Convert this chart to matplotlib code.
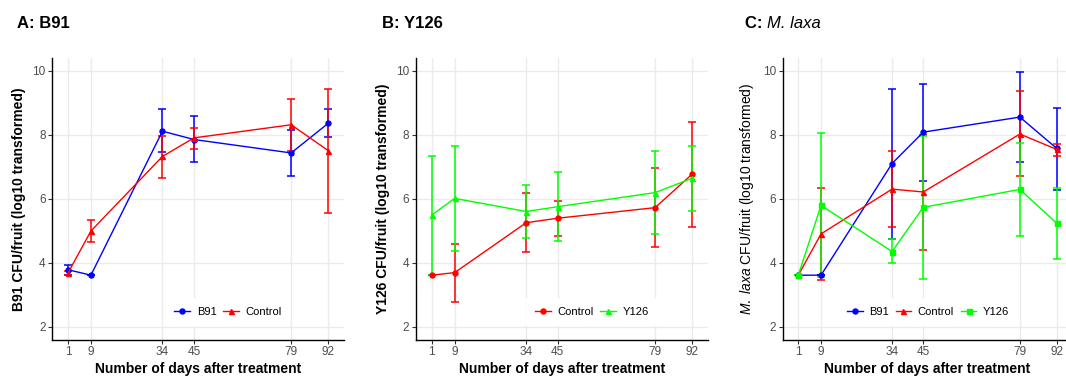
import matplotlib
matplotlib.use("Agg")
import matplotlib.pyplot as plt
from matplotlib.lines import Line2D
import numpy as np

plt.rcParams['font.family'] = ['Liberation Sans', 'DejaVu Sans']
plt.rcParams['mathtext.fontset'] = 'custom'
plt.rcParams['mathtext.rm'] = 'Liberation Sans'
plt.rcParams['mathtext.it'] = 'Liberation Sans:italic'
plt.rcParams['mathtext.bf'] = 'Liberation Sans:bold'

days = [1, 9, 34, 45, 79, 92]
x_ticks = [1, 9, 34, 45, 79, 92]
y_ticks = [2, 4, 6, 8, 10]

# Panel A: B91
a_b91_mean = [3.78, 3.61, 8.11, 7.85, 7.43, 8.36]
a_b91_low = [3.63, 3.61, 7.45, 7.14, 6.71, 7.92]
a_b91_high = [3.93, 3.61, 8.79, 8.57, 8.15, 8.81]
a_ctl_mean = [3.68, 4.99, 7.32, 7.90, 8.31, 7.50]
a_ctl_low = [3.62, 4.65, 6.66, 7.56, 7.50, 5.55]
a_ctl_high = [3.74, 5.33, 7.97, 8.22, 9.13, 9.42]

# Panel B: Y126
b_ctl_mean = [3.61, 3.69, 5.25, 5.39, 5.72, 6.77]
b_ctl_low = [3.61, 2.78, 4.33, 4.83, 4.50, 5.13]
b_ctl_high = [3.61, 4.60, 6.17, 5.93, 6.95, 8.41]
b_y126_mean = [5.49, 6.01, 5.60, 5.75, 6.19, 6.64]
b_y126_low = [3.61, 4.36, 4.77, 4.69, 4.90, 5.62]
b_y126_high = [7.33, 7.66, 6.44, 6.82, 7.50, 7.65]

# Panel C: M. laxa
c_b91_mean = [3.61, 3.61, 7.10, 8.08, 8.55, 7.57]
c_b91_low = [3.61, 3.61, 4.75, 6.56, 7.16, 6.27]
c_b91_high = [3.61, 3.61, 9.43, 9.58, 9.96, 8.85]
c_ctl_mean = [3.61, 4.90, 6.30, 6.21, 8.02, 7.54]
c_ctl_low = [3.61, 3.46, 5.11, 4.41, 6.71, 7.35]
c_ctl_high = [3.61, 6.35, 7.49, 8.00, 9.36, 7.71]
c_y126_mean = [3.61, 5.79, 4.35, 5.73, 6.29, 5.23]
c_y126_low = [3.61, 3.54, 3.98, 3.50, 4.84, 4.12]
c_y126_high = [3.61, 8.04, 4.75, 7.96, 7.73, 6.35]

BLUE = '#0000FF'
RED = '#FF0000'
GREEN = '#00FF00'

W, H = 1066, 376
fig = plt.figure(figsize=(W / 100, H / 100), dpi=100)

ax_bottom = (H - 339.5) / H
ax_height = 281.6 / H
panels_px = [(52.3, 291.8), (416.0, 292.0), (782.7, 289.7)]


def draw_series(ax, mean, low, high, color, marker, label):
    mean = np.array(mean)
    yerr = np.vstack([mean - np.array(low), np.array(high) - mean])
    ax.errorbar(days, mean, yerr=yerr, color=color, ecolor=color, elinewidth=1.1,
                capsize=2.6, capthick=1.1, lw=1.0, marker=marker, ms=3.6,
                zorder=3)
    return Line2D([], [], color=color, lw=1.0, marker=marker, ms=3.6, label=label)


def style_axes(ax):
    ax.set_xlim(-4.5, 97.5)
    ax.set_ylim(1.6, 10.4)
    ax.set_xticks(x_ticks)
    ax.set_yticks(y_ticks)
    ax.grid(True, color='#EBEBEB', lw=1.0, zorder=0)
    ax.set_axisbelow(True)
    for s in ['top', 'right']:
        ax.spines[s].set_visible(False)
    for s in ['left', 'bottom']:
        ax.spines[s].set_color('black')
        ax.spines[s].set_linewidth(1.0)
    ax.tick_params(axis='both', labelsize=8.5, labelcolor='#4D4D4D',
                   color='#333333', length=2.8, width=0.8, pad=2)
    ax.set_xlabel('Number of days after treatment', fontsize=10, fontweight='bold')
    ax.xaxis.label.set_va('center')
    ax.xaxis.set_label_coords(0.5, -0.105)


def legend(ax, handles, xc, ncol):
    leg = ax.legend(handles=handles, loc='center', bbox_to_anchor=(xc, 0.098), ncol=ncol,
                    fontsize=8, frameon=True, fancybox=False, borderpad=0.8,
                    handlelength=1.4, handletextpad=0.6, columnspacing=0.6)
    leg.get_frame().set_facecolor('white')
    leg.get_frame().set_edgecolor('none')
    leg.get_frame().set_alpha(1.0)


axes = []
for (l, w) in panels_px:
    axes.append(fig.add_axes([l / W, ax_bottom, w / W, ax_height]))

# Panel A
ax = axes[0]
style_axes(ax)
h1 = draw_series(ax, a_b91_mean, a_b91_low, a_b91_high, BLUE, 'o', 'B91')
h2 = draw_series(ax, a_ctl_mean, a_ctl_low, a_ctl_high, RED, '^', 'Control')
ax.set_ylabel('B91 CFU/fruit (log10 transformed)', fontsize=10, fontweight='bold')
ax.yaxis.label.set_va('center')
ax.yaxis.set_label_coords(-0.114, 0.5)
legend(ax, [h1, h2], 0.602, 2)

# Panel B
ax = axes[1]
style_axes(ax)
h1 = draw_series(ax, b_ctl_mean, b_ctl_low, b_ctl_high, RED, 'o', 'Control')
h2 = draw_series(ax, b_y126_mean, b_y126_low, b_y126_high, GREEN, '^', 'Y126')
ax.set_ylabel('Y126 CFU/fruit (log10 transformed)', fontsize=10, fontweight='bold')
ax.yaxis.label.set_va('center')
ax.yaxis.set_label_coords(-0.113, 0.5)
legend(ax, [h1, h2], 0.603, 2)

# Panel C
ax = axes[2]
style_axes(ax)
h1 = draw_series(ax, c_b91_mean, c_b91_low, c_b91_high, BLUE, 'o', 'B91')
h2 = draw_series(ax, c_ctl_mean, c_ctl_low, c_ctl_high, RED, '^', 'Control')
h3 = draw_series(ax, c_y126_mean, c_y126_low, c_y126_high, GREEN, 's', 'Y126')
ax.set_ylabel(r'$\mathit{M.\ laxa}$ CFU/fruit (log10 transformed)', fontsize=10)
ax.yaxis.label.set_va('center')
ax.yaxis.set_label_coords(-0.123, 0.5)
legend(ax, [h1, h2, h3], 0.502, 3)

# Titles
ty = 1 - 23 / H
fig.text(17 / W, ty, 'A: B91', fontsize=12, fontweight='bold', va='center', ha='left')
fig.text(382 / W, ty, 'B: Y126', fontsize=12, fontweight='bold', va='center', ha='left')
t1 = fig.text(745 / W, ty, 'C: ', fontsize=12, fontweight='bold', va='center', ha='left')
r = fig.canvas.get_renderer()
bb = t1.get_window_extent(renderer=r)
fig.text(bb.x1 / W, ty, 'M. laxa', fontsize=12, style='italic', va='center', ha='left')

fig.savefig('out.png', dpi=100)
